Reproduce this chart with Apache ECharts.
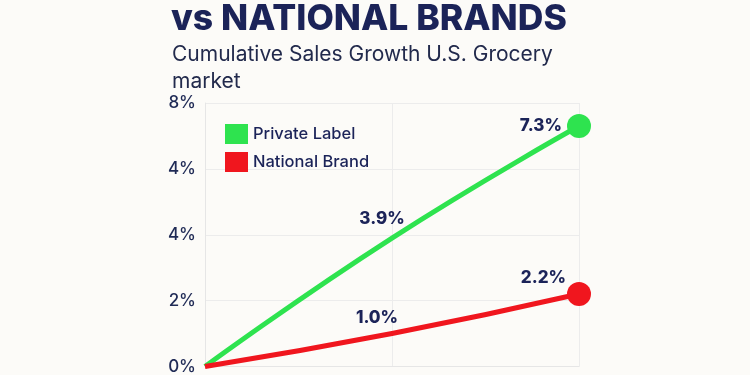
<!DOCTYPE html>
<html>
<head>
<meta charset="utf-8">
<script src="https://cdn.jsdelivr.net/npm/echarts@6/dist/echarts.min.js"></script>
<style>
  html, body { margin: 0; padding: 0; background: #fcfbf8; }
  #chart { width: 750px; height: 375px; }
</style>
</head>
<body>
<div id="chart"></div>
<script>
// 数据
const categories = ['Start', 'Mid', 'End']
const privateLabel = [0, 3.9, 7.3]
const nationalBrand = [0, 1.0, 2.2]
const yTickLabels = ['0%', '2%', '4%', '4%', '8%']

const navy = '#1b2358'
const green = '#2ee34f'
const red = '#f0161e'

const chart = echarts.init(document.getElementById('chart'))

const lastIdx = categories.length - 1

const option = {
  backgroundColor: '#fcfbf8',
  title: [
    {
      text: 'vs NATIONAL BRANDS',
      left: 166,
      top: -4,
      textStyle: {
        fontFamily: 'Inter',
        fontWeight: 800,
        fontSize: 35.5,
        color: navy
      }
    },
    {
      text: 'Cumulative Sales Growth U.S. Grocery\nmarket',
      left: 167,
      top: 36,
      textStyle: {
        fontFamily: 'Inter',
        fontWeight: 400,
        fontSize: 21,
        lineHeight: 27,
        color: '#222a4c'
      }
    }
  ],
  legend: {
    orient: 'vertical',
    left: 220,
    top: 119,
    icon: 'rect',
    itemWidth: 23,
    itemHeight: 20,
    itemGap: 8,
    textStyle: {
      fontFamily: 'Inter',
      fontSize: 16.5,
      fontWeight: 500,
      color: navy
    },
    data: ['Private Label', 'National Brand']
  },
  grid: {
    left: 205,
    right: 171,
    top: 103,
    bottom: 3
  },
  xAxis: {
    type: 'category',
    data: categories,
    boundaryGap: false,
    axisLine: { lineStyle: { color: '#e6e6e6' } },
    axisTick: { show: false },
    axisLabel: { show: false },
    splitLine: { show: true, lineStyle: { color: '#ececec' } }
  },
  yAxis: {
    type: 'value',
    min: 0,
    max: 8,
    interval: 2,
    axisLine: { show: true, lineStyle: { color: '#e6e6e6' } },
    axisTick: { show: false },
    axisLabel: {
      margin: 9,
      fontFamily: 'Inter',
      fontSize: 17,
      fontWeight: 500,
      color: '#1f2a55',
      formatter: v => yTickLabels[Math.round(v / 2)]
    },
    splitLine: { lineStyle: { color: '#ececec' } }
  },
  series: [
    {
      name: 'Private Label',
      type: 'line',
      data: privateLabel,
      smooth: 0.5,
      color: green,
      lineStyle: { width: 5, color: green },
      symbol: 'circle',
      symbolSize: (v, p) => (p.dataIndex === lastIdx ? 24 : 0),
      clip: false,
      label: {
        show: true,
        position: 'top',
        offset: [-10, -6],
        fontFamily: 'Inter',
        fontSize: 17,
        fontWeight: 800,
        color: navy,
        formatter: p => (p.dataIndex === 0 ? '' : p.value.toFixed(1) + '%')
      },
      emphasis: { disabled: true }
    },
    {
      name: 'National Brand',
      type: 'line',
      data: nationalBrand,
      smooth: 0.5,
      color: red,
      lineStyle: { width: 5, color: red },
      symbol: 'circle',
      symbolSize: (v, p) => (p.dataIndex === lastIdx ? 24 : 0),
      clip: false,
      label: {
        show: true,
        position: 'top',
        offset: [-15, -2],
        fontFamily: 'Inter',
        fontSize: 17,
        fontWeight: 800,
        color: navy,
        formatter: p => (p.dataIndex === 0 ? '' : p.value.toFixed(1) + '%')
      },
      emphasis: { disabled: true }
    }
  ]
}

// 终点标签放在圆点左侧
option.series[0].data = privateLabel.map((v, i) => i === lastIdx
  ? { value: v, label: { position: 'left', offset: [0, 0] } }
  : v)
option.series[1].data = nationalBrand.map((v, i) => i === lastIdx
  ? { value: v, label: { position: 'left', offset: [4, -16] } }
  : v)

option && chart.setOption(option)
</script>
</body>
</html>
